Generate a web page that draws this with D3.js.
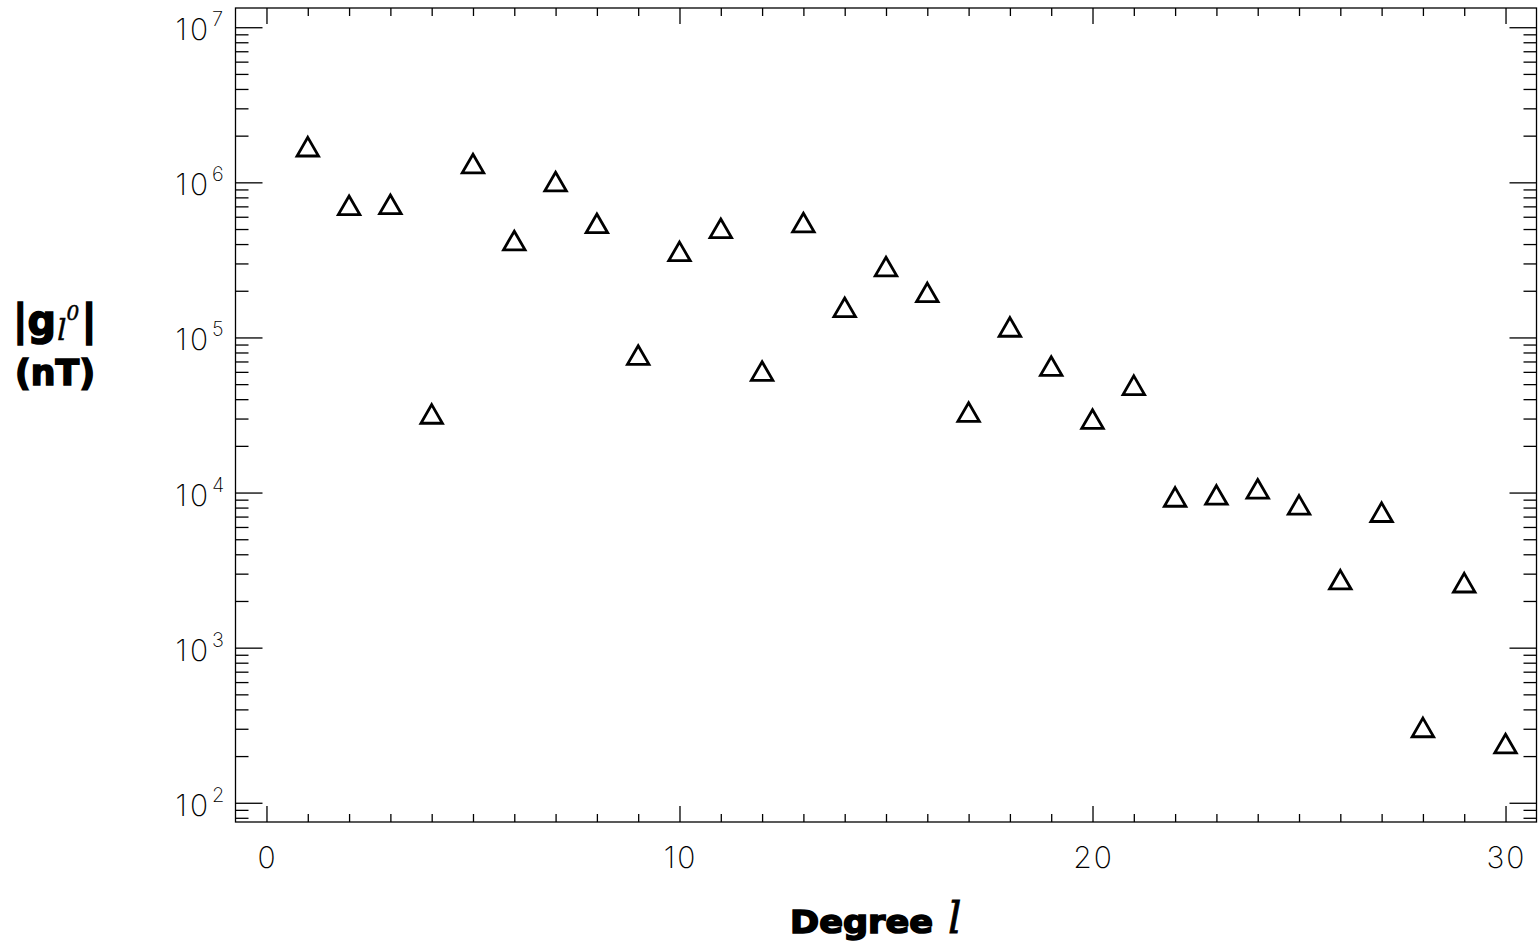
<!DOCTYPE html>
<html>
<head>
<meta charset="utf-8">
<script src="https://cdn.jsdelivr.net/npm/d3@7"></script>
<style>
  html, body { margin: 0; padding: 0; background: #fff; }
  svg { display: block; }
  .tick-label { font-family: "Inter", "Lato", sans-serif; font-weight: 200; fill: #000; }
  .bold-label { font-family: "DejaVu Sans", "Liberation Sans", sans-serif; font-weight: 700; fill: #000; stroke: #000; stroke-width: 1.6px; }
  .script { font-family: "DejaVu Serif", serif; font-style: italic; font-weight: 400; fill: #000; }
</style>
</head>
<body>
<svg id="chart" width="1539" height="949"></svg>
<script>
// Degree l of the spherical harmonic expansion
const degrees = d3.range(1, 31);
// |g_l^0| in nT for each degree
const coeffs = [
  1.67e6, 7.0e5, 7.1e5, 3.16e4, 1.30e6, 4.15e5, 9.96e5, 5.35e5, 7.57e4, 3.53e5,
  4.97e5, 5.97e4, 5.42e5, 1.54e5, 2.82e5, 1.92e5, 3.25e4, 1.15e5, 6.43e4, 2.93e4,
  4.84e4, 9.22e3, 9.5e3, 1.04e4, 8.19e3, 2.70e3, 7.35e3, 301, 2.58e3, 237
];
// Axis tick values
const xMajorTicks = [0, 10, 20, 30];
const xMinorTicks = d3.range(0, 31).filter(v => v % 10 !== 0);
const yExponents = [2, 3, 4, 5, 6, 7];

const svg = d3.select("#chart");
const plotLeft = 235.5, plotRight = 1536.5, plotTop = 8, plotBottom = 822;

const x = d3.scaleLinear().domain([-0.75, 30.75]).range([plotLeft, plotRight]);
const y = d3.scaleLog().domain([Math.pow(10, 1.876), Math.pow(10, 7.124)]).range([plotBottom, plotTop]);

const yMajor = yExponents.map(e => Math.pow(10, e));
const yMinor = [];
for (let e = 1; e <= 7; e++) {
  for (let m = 2; m <= 9; m++) {
    const v = m * Math.pow(10, e);
    if (v >= y.domain()[0] && v <= y.domain()[1]) yMinor.push(v);
  }
}

const axisG = svg.append("g").attr("class", "axes");
const tickStyle = g => {
  g.select(".domain").remove();
  g.selectAll("text").remove();
  g.selectAll("line").attr("stroke", "#000").attr("stroke-width", 1.3);
};

// bottom axis ticks
axisG.append("g").attr("transform", `translate(0,${plotBottom})`)
  .call(d3.axisTop(x).tickValues(xMajorTicks).tickSize(16)).call(tickStyle);
axisG.append("g").attr("transform", `translate(0,${plotBottom})`)
  .call(d3.axisTop(x).tickValues(xMinorTicks).tickSize(8)).call(tickStyle);
// top axis ticks
axisG.append("g").attr("transform", `translate(0,${plotTop})`)
  .call(d3.axisBottom(x).tickValues(xMajorTicks).tickSize(16)).call(tickStyle);
axisG.append("g").attr("transform", `translate(0,${plotTop})`)
  .call(d3.axisBottom(x).tickValues(xMinorTicks).tickSize(8)).call(tickStyle);
// left axis ticks
axisG.append("g").attr("transform", `translate(${plotLeft},0)`)
  .call(d3.axisRight(y).tickValues(yMajor).tickSize(27)).call(tickStyle);
axisG.append("g").attr("transform", `translate(${plotLeft},0)`)
  .call(d3.axisRight(y).tickValues(yMinor).tickSize(13)).call(tickStyle);
// right axis ticks
axisG.append("g").attr("transform", `translate(${plotRight},0)`)
  .call(d3.axisLeft(y).tickValues(yMajor).tickSize(27)).call(tickStyle);
axisG.append("g").attr("transform", `translate(${plotRight},0)`)
  .call(d3.axisLeft(y).tickValues(yMinor).tickSize(13)).call(tickStyle);

// frame
axisG.append("rect")
  .attr("x", plotLeft).attr("y", plotTop)
  .attr("width", plotRight - plotLeft).attr("height", plotBottom - plotTop)
  .attr("fill", "none").attr("stroke", "#000").attr("stroke-width", 1.3);

// x tick labels
svg.append("g").selectAll("text").data(xMajorTicks).join("text")
  .attr("class", "tick-label")
  .attr("x", d => x(d) + 1).attr("y", plotBottom + 46)
  .attr("text-anchor", "middle")
  .attr("font-size", 30)
  .attr("letter-spacing", 2)
  .text(d => d);

// y tick labels as powers of ten
const yl = svg.append("g").selectAll("text").data(yExponents).join("text")
  .attr("class", "tick-label")
  .attr("x", plotLeft - 60).attr("y", d => y(Math.pow(10, d)) + 13)
  .attr("font-size", 30);
yl.append("tspan").attr("letter-spacing", 3).text("10");
yl.append("tspan").attr("dx", 1).attr("dy", -14).attr("font-size", 20).text(d => d);

// data markers: open triangles
const tri = d3.symbol().type(d3.symbolTriangle).size(200);
svg.append("g").selectAll("path").data(degrees).join("path")
  .attr("transform", (d, i) => `translate(${x(d)},${y(coeffs[i]) + 2})`)
  .attr("d", tri)
  .attr("fill", "none").attr("stroke", "#000").attr("stroke-width", 2.8)
  .attr("stroke-linejoin", "miter");

// y axis title: |g_l^0| (nT), index and order set as sub/superscript
const yTitle = svg.append("text").attr("class", "bold-label").attr("x", 13).attr("y", 335).attr("font-size", 43);
yTitle.append("tspan").attr("textLength", 43).attr("lengthAdjust", "spacingAndGlyphs").text("|g");
yTitle.append("tspan").attr("class", "script").attr("dx", 1).attr("dy", 5)
  .attr("font-size", 30).attr("stroke-width", 0.4).text("l");
yTitle.append("tspan").attr("class", "script").attr("dx", 0).attr("dy", -20)
  .attr("font-size", 20).attr("stroke-width", 0.5).text("0");
yTitle.append("tspan").attr("dx", 2).attr("dy", 15).text("|");
svg.append("text").attr("class", "bold-label").attr("x", 15).attr("y", 385)
  .attr("font-size", 35).attr("textLength", 80).attr("lengthAdjust", "spacingAndGlyphs").text("(nT)");

// x axis title: Degree l
svg.append("text").attr("class", "bold-label").attr("x", 790).attr("y", 933)
  .attr("font-size", 32).attr("textLength", 143).attr("lengthAdjust", "spacingAndGlyphs").text("Degree");
svg.append("text").attr("class", "script").attr("x", 948).attr("y", 933)
  .attr("font-size", 42).attr("stroke", "#000").attr("stroke-width", 0.8).text("l");
</script>
</body>
</html>
